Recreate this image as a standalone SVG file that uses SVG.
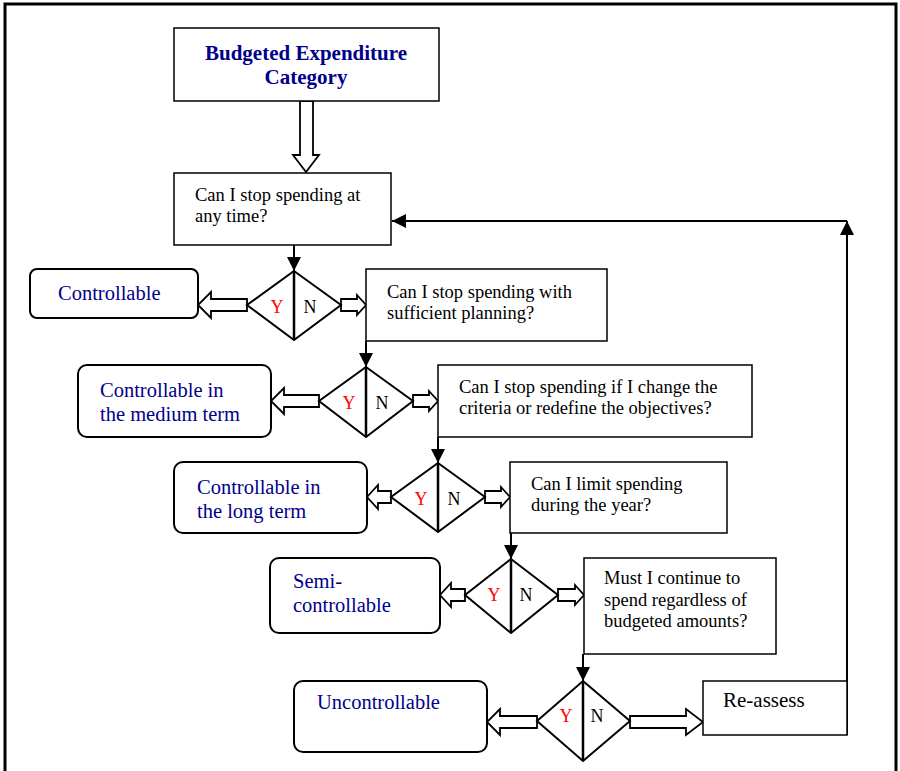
<svg xmlns="http://www.w3.org/2000/svg" width="900" height="771" viewBox="0 0 900 771">
<defs>
<marker id="ah" viewBox="0 0 14 14" refX="14" refY="7" markerWidth="14" markerHeight="14" markerUnits="userSpaceOnUse" orient="auto">
<path d="M0,0 L14,7 L0,14 Z" fill="#000"/>
</marker>
</defs>
<style>
.box{fill:#fff;stroke:#000;stroke-width:1.5}
.rbox{fill:#fff;stroke:#000;stroke-width:2}
.dia{fill:#fff;stroke:#000;stroke-width:2}
.div{stroke:#000;stroke-width:2.5}
.q{font-family:"Liberation Serif","Times New Roman",serif;font-size:18.5px;fill:#000}
.n{font-family:"Liberation Serif","Times New Roman",serif;font-size:20.5px;fill:#00008b}
.t{font-family:"Liberation Serif","Times New Roman",serif;font-size:21px;font-weight:bold;fill:#00008b;text-anchor:middle}
.y{font-family:"Liberation Serif","Times New Roman",serif;font-size:18px;fill:#ff0000;text-anchor:middle}
.nn{font-family:"Liberation Serif","Times New Roman",serif;font-size:18px;fill:#000;text-anchor:middle}
.ha{fill:#fff;stroke:#000;stroke-width:1.8;stroke-linejoin:miter}
.ln{fill:none;stroke:#000;stroke-width:2}
</style>
<rect width="900" height="771" fill="#fff"/>
<path d="M5,771 V4 H896 V771" fill="none" stroke="#000" stroke-width="3"/>

<g id="connectors">
<polygon class="ha" points="300,101 300,155 293,155 306,172 319,155 313,155 313,101"/>
<line class="ln" x1="294" y1="245" x2="294" y2="271" marker-end="url(#ah)"/>
<line class="ln" x1="366" y1="341" x2="366" y2="367" marker-end="url(#ah)"/>
<line class="ln" x1="438" y1="437" x2="438" y2="463" marker-end="url(#ah)"/>
<line class="ln" x1="511" y1="533" x2="511" y2="559" marker-end="url(#ah)"/>
<line class="ln" x1="583" y1="654" x2="583" y2="681" marker-end="url(#ah)"/>
<line class="ln" x1="847" y1="735" x2="847" y2="221" marker-end="url(#ah)"/>
<line class="ln" x1="847" y1="221" x2="392" y2="221" marker-end="url(#ah)"/>
<polygon class="ha" points="247,299 211,299 211,292 198,305 211,318 211,311 247,311"/>
<polygon class="ha" points="319,395 284,395 284,388 271,401 284,414 284,407 319,407"/>
<polygon class="ha" points="391,491 378,491 378,485 367,497 378,509 378,503 391,503"/>
<polygon class="ha" points="465,589 451,589 451,583 440,595 451,607 451,601 465,601"/>
<polygon class="ha" points="537,716 500,716 500,709 487,722 500,735 500,728 537,728"/>
<polygon class="ha" points="341,299 357,299 357,295 366,305 357,315 357,311 341,311"/>
<polygon class="ha" points="413,395 429,395 429,391 438,401 429,411 429,407 413,407"/>
<polygon class="ha" points="485,491 501,491 501,487 510,497 501,507 501,503 485,503"/>
<polygon class="ha" points="558,589 575,589 575,585 584,595 575,605 575,601 558,601"/>
<polygon class="ha" points="630,716 686,716 686,709 703,722 686,735 686,728 630,728"/>
</g>

<g id="title">
<rect class="box" x="174" y="28" width="265" height="73"/>
<text class="t" x="306" y="60">Budgeted Expenditure</text>
<text class="t" x="306" y="84">Category</text>
</g>

<g id="q1">
<rect class="box" x="174" y="173" width="217" height="72"/>
<text class="q" x="195" y="201">Can I stop spending at</text>
<text class="q" x="195" y="222">any time?</text>
</g>
<g id="d1">
<polygon class="dia" points="294,271 341,305 294,340 247,305"/>
<line class="div" x1="294" y1="271" x2="294" y2="340"/>
<text class="y" x="277" y="313">Y</text>
<text class="nn" x="310" y="313">N</text>
</g>
<g id="controllable">
<rect class="rbox" x="30" y="269" width="168" height="49" rx="7"/>
<text class="n" x="58" y="300">Controllable</text>
</g>
<g id="q2">
<rect class="box" x="366" y="269" width="241" height="72"/>
<text class="q" x="387" y="298">Can I stop spending with</text>
<text class="q" x="387" y="319">sufficient planning?</text>
</g>

<g id="d2">
<polygon class="dia" points="366,367 413,401 366,437 319,401"/>
<line class="div" x1="366" y1="367" x2="366" y2="437"/>
<text class="y" x="349" y="409">Y</text>
<text class="nn" x="382" y="409">N</text>
</g>
<g id="medium">
<rect class="rbox" x="78" y="365" width="193" height="72" rx="9"/>
<text class="n" x="100" y="397">Controllable in</text>
<text class="n" x="100" y="421">the medium term</text>
</g>
<g id="q3">
<rect class="box" x="438" y="365" width="314" height="72"/>
<text class="q" x="459" y="393">Can I stop spending if I change the</text>
<text class="q" x="459" y="414">criteria or redefine the objectives?</text>
</g>

<g id="d3">
<polygon class="dia" points="438,463 485,497 438,532 391,497"/>
<line class="div" x1="438" y1="463" x2="438" y2="532"/>
<text class="y" x="421" y="505">Y</text>
<text class="nn" x="454" y="505">N</text>
</g>
<g id="long">
<rect class="rbox" x="174" y="462" width="193" height="71" rx="9"/>
<text class="n" x="197" y="494">Controllable in</text>
<text class="n" x="197" y="518">the long term</text>
</g>
<g id="q4">
<rect class="box" x="510" y="462" width="217" height="71"/>
<text class="q" x="531" y="490">Can I limit spending</text>
<text class="q" x="531" y="511">during the year?</text>
</g>

<g id="d4">
<polygon class="dia" points="511,559 558,595 511,633 465,595"/>
<line class="div" x1="511" y1="559" x2="511" y2="633"/>
<text class="y" x="494" y="601">Y</text>
<text class="nn" x="526" y="601">N</text>
</g>
<g id="semi">
<rect class="rbox" x="270" y="558" width="170" height="75" rx="9"/>
<text class="n" x="293" y="588">Semi-</text>
<text class="n" x="293" y="612">controllable</text>
</g>
<g id="q5">
<rect class="box" x="584" y="558" width="192" height="96"/>
<text class="q" x="604" y="584">Must I continue to</text>
<text class="q" x="604" y="606">spend regardless of</text>
<text class="q" x="604" y="627">budgeted amounts?</text>
</g>

<g id="d5">
<polygon class="dia" points="583,681 630,721 583,761 537,721"/>
<line class="div" x1="583" y1="681" x2="583" y2="761"/>
<text class="y" x="566" y="722">Y</text>
<text class="nn" x="597" y="722">N</text>
</g>
<g id="uncontrollable">
<rect class="rbox" x="294" y="681" width="193" height="71" rx="9"/>
<text class="n" x="317" y="709">Uncontrollable</text>
</g>
<g id="reassess">
<rect class="box" x="703" y="681" width="144" height="54"/>
<text class="q" x="723" y="707" style="font-size:21px">Re-assess</text>
</g>
</svg>
